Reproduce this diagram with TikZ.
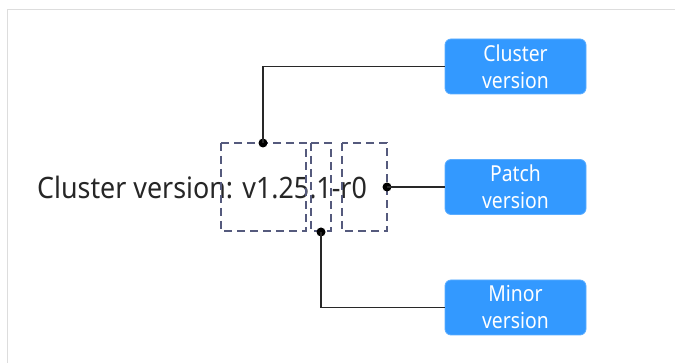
\documentclass[tikz,border=0pt]{standalone}
\usepackage{fontspec}
\setmainfont{Noto Sans}
\usepackage{graphicx}
\definecolor{boxblue}{RGB}{51,153,255}
\definecolor{dashcol}{RGB}{85,90,125}
\definecolor{framecol}{RGB}{221,221,221}
\definecolor{linecol}{RGB}{40,40,40}
\definecolor{textcol}{RGB}{38,38,38}
\begin{document}
\begin{tikzpicture}[x=1pt,y=-1pt,
  verbox/.style={fill=boxblue,draw=boxblue!80!white,line width=0.8pt,rounded corners=6pt,minimum width=141pt,minimum height=55pt,inner sep=0pt,text=white,align=center,font=\fontsize{22}{27}\selectfont},
  partbox/.style={draw=dashcol,line width=1.4pt,dash pattern=on 8pt off 5pt},
  conn/.style={draw=linecol,line width=1.1pt},
  dotnode/.style={circle,fill=black,inner sep=0pt,minimum size=9pt}]
\useasboundingbox (0,0) rectangle (675,363);
\draw[framecol,line width=1pt] (7.5,363) -- (7.5,9.5) -- (675,9.5);
% main text
\node[anchor=west,inner sep=0pt,text=textcol] (txt) at (37,187) {\scalebox{0.91}[1]{\fontsize{29.5}{30}\selectfont Cluster version: v1.25.1-r0}};
% dashed boxes
\draw[partbox] (221,143) rectangle (306,231);
\draw[partbox] (311,143) rectangle (331,231);
\draw[partbox] (342,143) rectangle (387,231);
% version boxes
\node[verbox] (cv) at (515.5,66.5) {\scalebox{0.88}[1]{Cluster}\\\scalebox{0.88}[1]{version}};
\node[verbox] (pv) at (515.5,187) {\scalebox{0.88}[1]{Patch}\\\scalebox{0.88}[1]{version}};
\node[verbox] (mv) at (515.5,307.5) {\scalebox{0.88}[1]{Minor}\\\scalebox{0.88}[1]{version}};
% dots
\node[dotnode] (d1) at (263,143) {};
\node[dotnode] (d2) at (387,187) {};
\node[dotnode] (d3) at (321,232) {};
% connectors
\draw[conn] (d1.center) |- (cv.west);
\draw[conn] (d2.center) -- (pv.west);
\draw[conn] (d3.center) |- (mv.west);
\end{tikzpicture}
\end{document}
